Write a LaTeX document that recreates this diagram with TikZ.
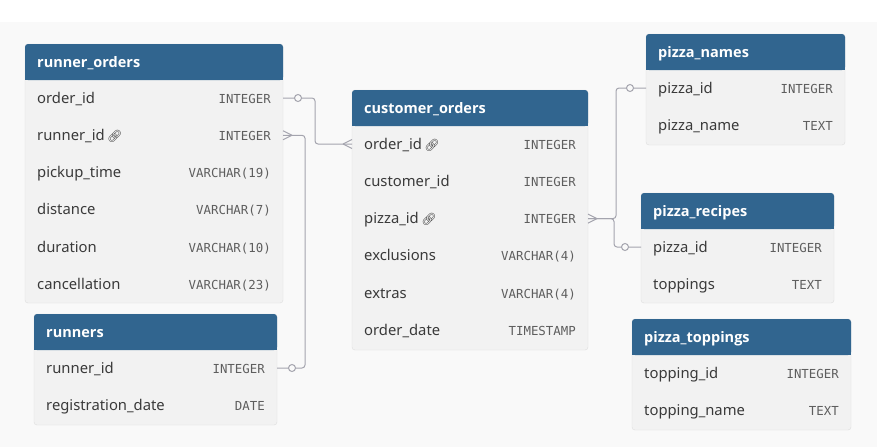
\documentclass[tikz,border=0pt]{standalone}
\usepackage{fontspec}
\setmainfont{Noto Sans}
\setmonofont{DejaVu Sans Mono}
\newfontfamily\titlefont{Open Sans}
\newfontfamily\emojifont{Noto Emoji}

\definecolor{headblue}{HTML}{31658F}
\definecolor{rowgray}{HTML}{F2F2F2}
\definecolor{edgegray}{HTML}{DEDEDE}
\definecolor{textgray}{HTML}{3A3A3A}
\definecolor{typegray}{HTML}{5E5E5E}
\definecolor{linegray}{HTML}{A4A4AE}
\definecolor{canvas}{HTML}{F9F9F9}

\newcommand{\lnk}{\,{\color{textgray}\emojifont\fontsize{12}{12}\selectfont 🔗}}

% one table: prefix, left, right, top, bottom, title, rows
\newcommand{\entity}[7]{%
  \fill[tbody] (#2,#4) rectangle (#3,#5);
  \fill[thead] (#2,#4) rectangle (#3,#4+36);
  \fill[headblue] (#2,#4+18) rectangle (#3,#4+36);
  \node[ttitle] (#1) at (#2+12,#4+18) {#6};
  \foreach \f/\t [count=\i] in {#7} {
    \node[tfield] (#1-f\i) at (#2+12,{#4+54+37.3*(\i-1)}) {\f};
    \node[ttype] (#1-t\i) at (#3-12,{#4+54+37.3*(\i-1)}) {\t};
    \coordinate (#1-l\i) at (#2,{#4+54+37.3*(\i-1)});
    \coordinate (#1-r\i) at (#3,{#4+54+37.3*(\i-1)});
  }
}

\begin{document}
\begin{tikzpicture}[x=1pt,y=-1pt,
  tbody/.style={fill=rowgray,draw=edgegray,rounded corners=3pt},
  thead/.style={fill=headblue,rounded corners=3pt},
  ttitle/.style={anchor=west,inner sep=0pt,text height=11pt,text depth=1pt,
    text=white,font=\titlefont\bfseries\fontsize{14.5}{16}\selectfont},
  tfield/.style={anchor=west,inner sep=0pt,text height=11pt,text depth=1pt,
    text=textgray,font=\fontsize{14.8}{16}\selectfont},
  ttype/.style={anchor=east,inner sep=0pt,text height=11pt,text depth=1pt,
    text=typegray,font=\ttfamily\fontsize{12.4}{14}\selectfont},
  conn/.style={draw=linegray,line width=1pt,rounded corners=3pt},
  crow/.style={draw=linegray,line width=1pt},
  onecirc/.style={circle,draw=linegray,fill=canvas,line width=1pt,
    inner sep=0pt,minimum size=7pt}]

\useasboundingbox (0,0) rectangle (877,447);
\fill[white] (0,0) rectangle (877,447);
\fill[canvas] (0,22) rectangle (877,447);

\entity{ro}{25}{283}{44}{303}{runner\_orders}{order\_id/INTEGER,
  runner\_id\lnk/INTEGER, pickup\_time/VARCHAR(19), distance/VARCHAR(7),
  duration/VARCHAR(10), cancellation/VARCHAR(23)}
\entity{rn}{34}{277}{314}{425}{runners}{runner\_id/INTEGER,
  registration\_date/DATE}
\entity{co}{352}{588}{90}{350}{customer\_orders}{order\_id\lnk/INTEGER,
  customer\_id/INTEGER, pizza\_id\lnk/INTEGER, exclusions/VARCHAR(4),
  extras/VARCHAR(4), order\_date/TIMESTAMP}
\entity{pn}{646}{845}{34}{145}{pizza\_names}{pizza\_id/INTEGER,
  pizza\_name/TEXT}
\entity{pr}{641}{834}{193}{303}{pizza\_recipes}{pizza\_id/INTEGER,
  toppings/TEXT}
\entity{pt}{632}{851}{319}{430}{pizza\_toppings}{topping\_id/INTEGER,
  topping\_name/TEXT}

% runner_orders -> customer_orders
\draw[conn] (ro-r1) -- ++(32,0) |- (co-l1);
\draw[crow] ([xshift=-9pt]co-l1) -- ([yshift=4.5pt]co-l1)
  ([xshift=-9pt]co-l1) -- ([yshift=-4.5pt]co-l1);
\node[onecirc] at ([xshift=15pt]ro-r1) {};

% runners -> runner_orders
\draw[conn] (rn-r1) -- ++(28,0) |- (ro-r2);
\draw[crow] ([xshift=9pt]ro-r2) -- ([yshift=4.5pt]ro-r2)
  ([xshift=9pt]ro-r2) -- ([yshift=-4.5pt]ro-r2);
\node[onecirc] at ([xshift=15pt]rn-r1) {};

% customer_orders -> pizza_names, pizza_recipes
\draw[conn] (co-r3) -- ++(28,0) |- (pn-l1);
\draw[conn] (co-r3) -- ++(26,0) |- (pr-l1);
\draw[crow] ([xshift=9pt]co-r3) -- ([yshift=4.5pt]co-r3)
  ([xshift=9pt]co-r3) -- ([yshift=-4.5pt]co-r3);
\node[onecirc] at ([xshift=-16pt]pn-l1) {};
\node[onecirc] at ([xshift=-16pt]pr-l1) {};
\end{tikzpicture}
\end{document}
